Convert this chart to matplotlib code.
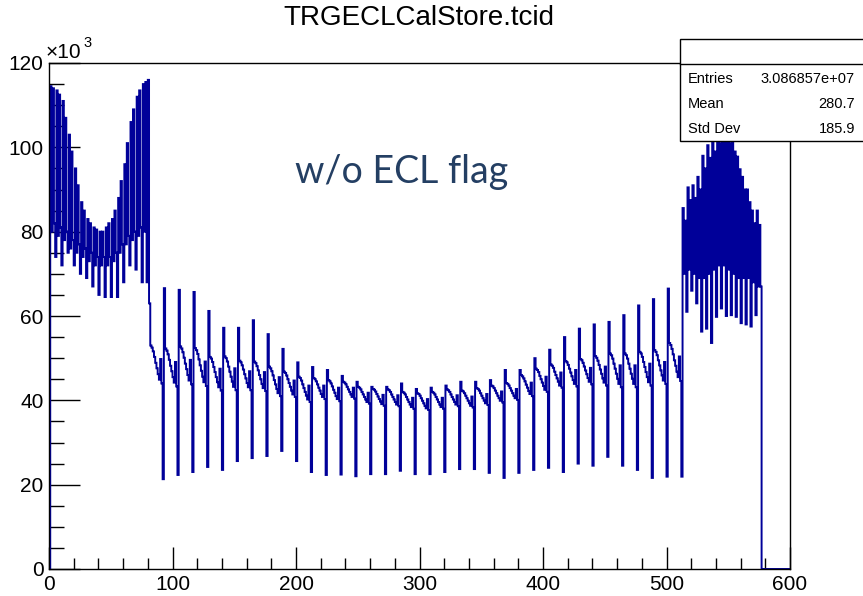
import numpy as np
import matplotlib
matplotlib.use("Agg")
import matplotlib.pyplot as plt
from matplotlib.patches import Rectangle
from matplotlib.lines import Line2D
from matplotlib.ticker import MultipleLocator

plt.rcParams['font.family'] = ['Liberation Sans', 'DejaVu Sans']

title = "TRGECLCalStore.tcid"
annotation = "w/o ECL flag"
stats_labels = ["Entries", "Mean", "Std Dev"]
stats_values = ["3.086857e+07", "280.7", "185.9"]
x_ticks = [0, 100, 200, 300, 400, 500, 600]
y_ticks = [0, 20, 40, 60, 80, 100, 120]

# counts in units of 10^3, TC id 1..80 (forward endcap)
fwd_counts_k = [
    114.5, 80, 114, 82, 74,
    113.5, 79, 112.5, 81, 72,
    111, 78, 107, 80, 75,
    103, 76, 99, 78, 72,
    95, 75, 91, 77, 70,
    87, 74, 85, 76, 69,
    83, 73, 82, 75, 67,
    81, 72, 80.5, 74, 65,
    80, 72, 80, 74, 64.5,
    81, 72, 82, 74, 64.5,
    83, 73, 85, 75, 64.5,
    88, 75, 92, 77, 68,
    96, 77, 101, 79, 72,
    106, 78, 109, 80, 71,
    112, 79, 113.5, 81, 68,
    115, 80, 115.5, 68, 116,
]

# TC id 81..512 (barrel)
barrel_counts_k = [
    63.0, 53.0, 52.5, 51.6, 50.3, 48.9, 47.6, 46.2, 44.9, 49.8, 44.0, 21.3,
    66.6, 52.3, 51.8, 50.9, 49.6, 48.2, 46.9, 45.5, 44.2, 49.1, 43.3, 22.3,
    66.2, 52.8, 52.3, 51.4, 50.1, 48.7, 47.4, 46.0, 44.7, 49.6, 43.8, 23.0,
    65.7, 52.4, 51.9, 51.0, 49.7, 48.3, 47.0, 45.6, 44.3, 49.2, 43.4, 24.2,
    61.2, 50.3, 49.9, 49.1, 47.9, 46.7, 45.5, 44.3, 43.1, 47.5, 42.3, 23.5,
    57.2, 50.4, 50.0, 49.2, 48.0, 46.8, 45.6, 44.4, 43.2, 47.6, 42.4, 25.6,
    57.2, 49.4, 49.0, 48.3, 47.3, 46.2, 45.2, 44.1, 43.1, 46.9, 42.4, 26.3,
    59.0, 49.2, 48.8, 48.1, 47.1, 46.0, 45.0, 43.9, 42.9, 46.7, 42.2, 26.8,
    55.7, 48.0, 47.6, 46.9, 45.9, 44.8, 43.8, 42.7, 41.7, 45.5, 41.0, 28.0,
    52.2, 46.8, 46.5, 45.9, 45.0, 44.1, 43.2, 42.3, 41.4, 44.7, 40.8, 25.6,
    49.0, 45.6, 45.3, 44.7, 43.8, 42.9, 42.0, 41.1, 40.2, 43.5, 39.6, 23.0,
    47.9, 45.3, 45.0, 44.5, 43.8, 43.0, 42.3, 41.5, 40.8, 43.5, 40.3, 22.3,
    47.2, 44.8, 44.5, 44.0, 43.3, 42.5, 41.8, 41.0, 40.3, 43.0, 39.8, 22.4,
    45.8, 44.4, 44.2, 43.8, 43.2, 42.6, 42.0, 41.4, 40.8, 43.0, 40.4, 22.0,
    44.4, 43.2, 43.0, 42.6, 42.0, 41.4, 40.8, 40.2, 39.6, 41.8, 39.2, 22.5,
    43.2, 42.7, 42.5, 42.1, 41.5, 40.9, 40.3, 39.7, 39.1, 41.3, 38.7, 22.5,
    43.2, 42.6, 42.4, 42.0, 41.4, 40.8, 40.2, 39.6, 39.0, 41.2, 38.6, 23.3,
    44.0, 42.0, 41.8, 41.4, 40.8, 40.2, 39.6, 39.0, 38.4, 40.6, 38.0, 22.5,
    42.7, 41.7, 41.5, 41.1, 40.5, 39.9, 39.3, 38.7, 38.1, 40.3, 37.7, 22.5,
    43.0, 42.0, 41.8, 41.4, 40.8, 40.2, 39.6, 39.0, 38.4, 40.6, 38.0, 23.0,
    43.5, 42.6, 42.4, 42.0, 41.4, 40.8, 40.2, 39.6, 39.0, 41.2, 38.6, 23.7,
    44.4, 42.3, 42.1, 41.7, 41.1, 40.5, 39.9, 39.3, 38.7, 40.9, 38.3, 23.7,
    44.4, 42.9, 42.7, 42.3, 41.7, 41.1, 40.5, 39.9, 39.3, 41.5, 38.9, 22.8,
    44.8, 43.5, 43.3, 42.9, 42.3, 41.7, 41.1, 40.5, 39.9, 42.1, 39.5, 21.6,
    47.2, 44.1, 43.9, 43.5, 42.9, 42.3, 41.7, 41.1, 40.5, 42.7, 40.1, 22.8,
    47.2, 46.0, 45.7, 45.2, 44.5, 43.7, 43.0, 42.2, 41.5, 44.2, 41.0, 23.5,
    50.0, 47.5, 47.2, 46.7, 45.8, 45.0, 44.2, 43.4, 42.5, 45.6, 42.0, 24.0,
    52.0, 48.5, 48.2, 47.7, 46.8, 46.0, 45.2, 44.4, 43.5, 46.6, 43.0, 23.0,
    55.0, 49.3, 49.0, 48.4, 47.5, 46.6, 45.7, 44.8, 43.9, 47.2, 43.3, 25.0,
    57.0, 49.8, 49.5, 48.9, 48.0, 47.1, 46.2, 45.3, 44.4, 47.7, 43.8, 24.5,
    58.0, 50.5, 50.1, 49.4, 48.4, 47.3, 46.3, 45.2, 44.2, 48.0, 43.5, 26.6,
    58.6, 51.1, 50.7, 49.9, 48.7, 47.5, 46.3, 45.1, 43.9, 48.3, 43.1, 24.5,
    60.2, 51.1, 50.7, 49.9, 48.7, 47.5, 46.3, 45.1, 43.9, 48.3, 43.1, 23.5,
    62.5, 51.5, 51.1, 50.3, 49.1, 47.9, 46.7, 45.5, 44.3, 48.7, 43.5, 21.6,
    64.0, 51.9, 51.5, 50.7, 49.5, 48.3, 47.1, 45.9, 44.7, 49.1, 43.9, 21.9,
    66.5, 53.6, 53.1, 52.2, 50.9, 49.5, 48.2, 46.8, 45.5, 50.4, 44.6, 21.9,
]

# TC id 513..576 (backward endcap)
bwd_counts_k = [
    85.6, 70, 82.6, 61.0,
    90.5, 71, 87.5, 66.0,
    91.0, 70, 88.0, 63.0,
    93.0, 69, 90.0, 56.3,
    98.0, 69, 95.0, 57.0,
    100.5, 70, 97.5, 53.6,
    102.0, 71, 99.0, 59.8,
    104.0, 72, 101.0, 61.8,
    105.0, 72, 102.0, 60.0,
    104.0, 71, 101.0, 60.2,
    102.0, 70, 99.0, 59.8,
    97.8, 69, 94.8, 58.3,
    93.0, 69, 90.0, 58.0,
    90.0, 69, 87.0, 57.5,
    85.0, 68, 82.0, 60.2,
    85.0, 67, 81.6, 67.0,
]

n_bins = 600
x_min, x_max = 0, 600
tc_counts = np.array(fwd_counts_k + barrel_counts_k + bwd_counts_k, dtype=float)
counts = np.zeros(n_bins)
counts[1:1 + len(tc_counts)] = tc_counts
edges = np.linspace(x_min, x_max, n_bins + 1)

W, H = 863, 596
fig = plt.figure(figsize=(W / 100, H / 100), dpi=100)

def fx(px):
    return px / W

def fy(py):
    return 1 - py / H

ax_l, ax_r, ax_t, ax_b = 49, 790, 63, 569
ax = fig.add_axes([fx(ax_l), fy(ax_b), (ax_r - ax_l) / W, (ax_b - ax_t) / H])

ax.stairs(counts, edges, color="#000099", lw=1.4, zorder=2)

ax.set_xlim(x_min, x_max)
ax.set_ylim(0, 120)
ax.set_xticks(x_ticks)
ax.set_yticks(y_ticks)
ax.xaxis.set_minor_locator(MultipleLocator(20))
ax.yaxis.set_minor_locator(MultipleLocator(5))
ax.tick_params(axis='both', which='both', direction='in', top=False, right=False,
               labelsize=15, width=1, color='black')
ax.tick_params(axis='x', which='major', length=16, pad=4)
ax.tick_params(axis='x', which='minor', length=8)
ax.tick_params(axis='y', which='major', length=22, pad=4)
ax.tick_params(axis='y', which='minor', length=11)
for sp in ax.spines.values():
    sp.set_linewidth(1)
    sp.set_zorder(5)

# title
fig.text(fx(419), fy(18), title, ha='center', va='center', fontsize=20)

# x10^3 multiplier
fig.text(fx(46), fy(58), "\u00d710", ha='left', va='baseline', fontsize=15)
fig.text(fx(83), fy(47), "3", ha='left', va='baseline', fontsize=10.5)

# stats box
box = Rectangle((fx(680), fy(141)), fx(200), (141 - 39) / H, transform=fig.transFigure,
                facecolor='white', edgecolor='black', lw=1, zorder=10, clip_on=False)
fig.add_artist(box)
fig.add_artist(Line2D([fx(680), fx(880)], [fy(64), fy(64)], transform=fig.transFigure,
                      color='black', lw=1, zorder=11))
rows_y = [79, 104, 129]
for lab, val, ry in zip(stats_labels, stats_values, rows_y):
    fig.text(fx(688), fy(ry), lab, ha='left', va='center', fontsize=10.5, zorder=12)
    fig.text(fx(855), fy(ry), val, ha='right', va='center', fontsize=10.5, zorder=12)

# overlay annotation
fig.text(fx(402), fy(172), annotation, ha='center', va='center', fontsize=27,
         color='#243f63', family=['Lato', 'DejaVu Sans'])

fig.savefig("out.png", dpi=100)
